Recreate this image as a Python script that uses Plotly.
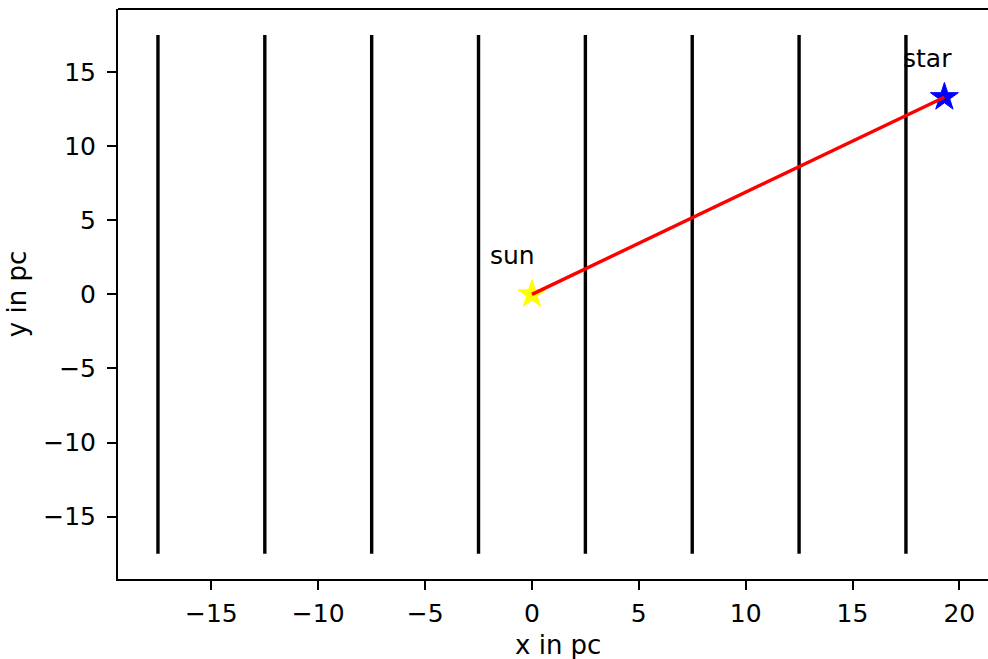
import plotly.graph_objects as go

# data
line_x = [-17.5, -12.5, -7.5, -2.5, 2.5, 7.5, 12.5, 17.5]
line_y_extent = [-17.5, 17.5]
sun_pos = [0.0, 0.0]
star_pos = [19.3, 13.3]
labels = ["sun", "star"]
label_pos = [[-0.9, 2.6], [18.5, 15.9]]
x_ticks = [-15, -10, -5, 0, 5, 10, 15, 20]
y_ticks = [-15, -10, -5, 0, 5, 10, 15]
x_title = "x in pc"
y_title = "y in pc"

FONT = "DejaVu Sans"
FS = 25
TITLE_FS = 26

fig = go.Figure()
for xv in line_x:
    fig.add_trace(go.Scatter(x=[xv, xv], y=line_y_extent, mode="lines",
                             line=dict(color="black", width=3.4), showlegend=False, hoverinfo="skip"))

fig.add_trace(go.Scatter(x=[sun_pos[0]], y=[sun_pos[1]], mode="markers",
                         marker=dict(symbol="star", size=21, color="yellow",
                                     line=dict(color="yellow", width=1)), showlegend=False))
fig.add_trace(go.Scatter(x=[star_pos[0]], y=[star_pos[1]], mode="markers",
                         marker=dict(symbol="star", size=21, color="blue",
                                     line=dict(color="blue", width=1)), showlegend=False))
fig.add_trace(go.Scatter(x=[sun_pos[0], star_pos[0]], y=[sun_pos[1], star_pos[1]], mode="lines",
                         line=dict(color="red", width=3.4), showlegend=False))

for t, (lx, ly) in zip(labels, label_pos):
    fig.add_annotation(x=lx, y=ly, text=t, showarrow=False,
                       font=dict(family=FONT, size=FS, color="black"))

title_font = dict(family=FONT, size=TITLE_FS, color="black")
# x axis title (centred on the full matplotlib axes, which extends past the page edge)
fig.add_annotation(xref="paper", yref="paper", x=0.506, y=-0.116, text=x_title,
                   showarrow=False, xanchor="center", yanchor="middle", font=title_font)

fig.add_shape(type="line", xref="paper", yref="paper", x0=0, x1=1, y0=1, y1=1,
              line=dict(color="black", width=2))

fig.update_layout(
    width=988, height=659,
    margin=dict(l=118, r=0, t=9, b=80),
    plot_bgcolor="white", paper_bgcolor="white",
    font=dict(family=FONT, size=FS, color="black"),
)
fig.update_xaxes(range=[-19.37, 21.34], tickvals=x_ticks, ticktext=[str(v).replace("-", "\u2212") for v in x_ticks],
                 tickfont=dict(family=FONT, size=FS, color="black"),
                 showline=True, linecolor="black", linewidth=2, ticks="outside", ticklen=9,
                 tickwidth=2, tickcolor="black", showgrid=False, zeroline=False,
                 ticklabelstandoff=2)
fig.update_yaxes(range=[-19.2, 19.25], tickvals=y_ticks, ticktext=[str(v).replace("-", "\u2212") for v in y_ticks],
                 tickfont=dict(family=FONT, size=FS, color="black"),
                 showline=True, linecolor="black", linewidth=2, ticks="outside", ticklen=9,
                 tickwidth=2, tickcolor="black", showgrid=False, zeroline=False,
                 ticklabelstandoff=6,
                 title=dict(text=y_title, standoff=9, font=title_font))

fig.write_html("out.html", config={"displayModeBar": False})

with open("out.html", "r", encoding="utf-8") as f:
    html = f.read()
html = html.replace("<head>", "<head><style>html,body{margin:0;padding:0;overflow:hidden;}</style>", 1)
with open("out.html", "w", encoding="utf-8") as f:
    f.write(html)
